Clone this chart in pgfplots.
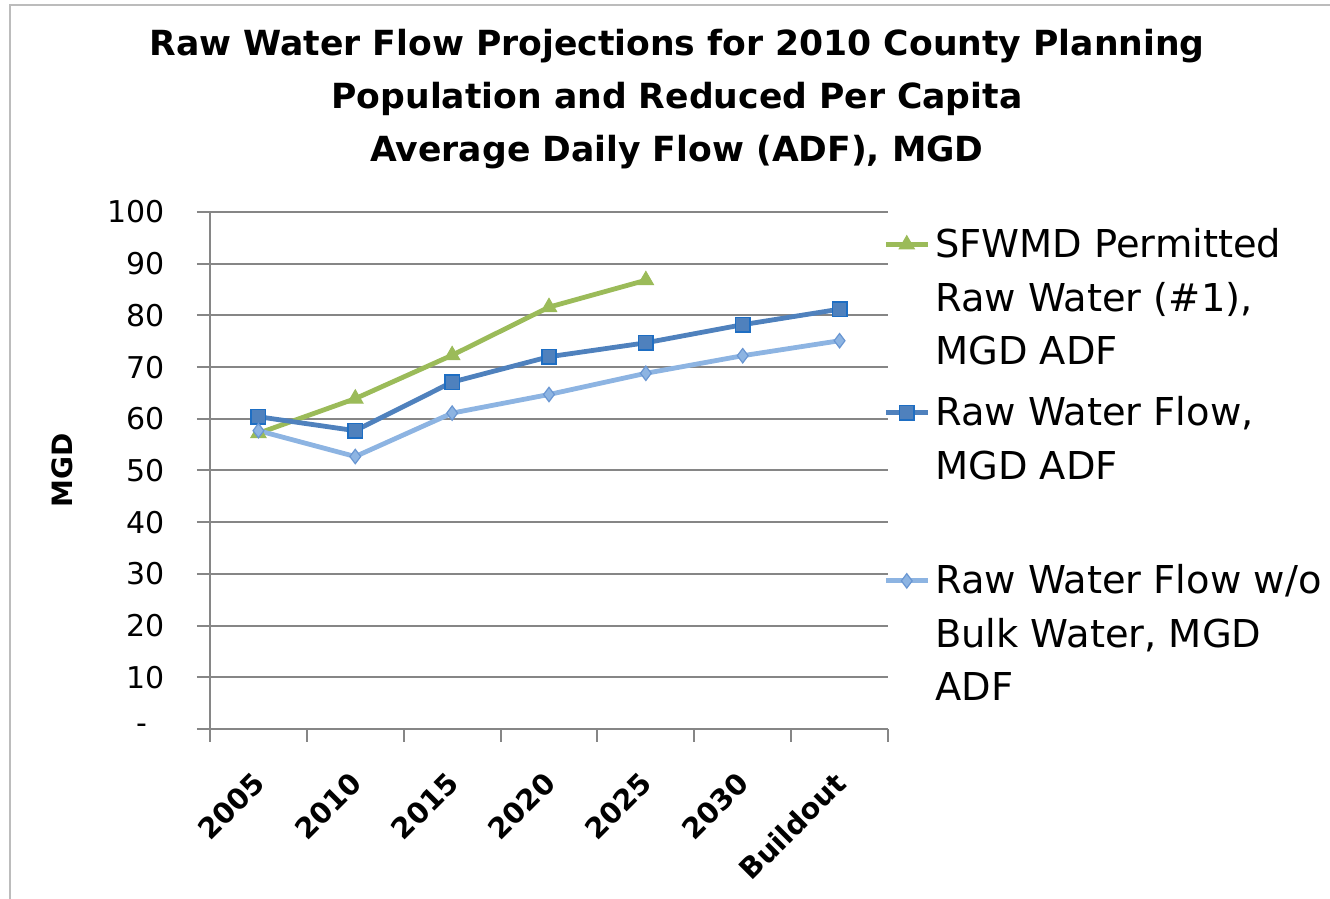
\documentclass[border=0pt]{standalone}
\usepackage{fontspec}
\setmainfont{DejaVu Sans}
\usepackage{pgfplots}
\pgfplotsset{compat=1.18}
\definecolor{cgreen}{RGB}{155,187,89}
\definecolor{cblue}{RGB}{79,129,189}
\definecolor{cblueedge}{RGB}{30,110,195}
\definecolor{clight}{RGB}{141,180,226}
\definecolor{clightedge}{RGB}{105,150,210}
\definecolor{cgrid}{RGB}{134,134,134}
\begin{document}
\begin{tikzpicture}
\path[use as bounding box] (0pt,0pt) rectangle (665pt,449.5pt);
\draw[cgrid!55, line width=1pt] (5pt,0pt) -- (5pt,447pt) -- (665pt,447pt);
\node[align=center, font=\bfseries\fontsize{17.3}{26.5}\selectfont] at (338.5pt,400pt)
  {Raw Water Flow Projections for 2010 County Planning\\Population and Reduced Per Capita\\Average Daily Flow (ADF), MGD};
\begin{axis}[
  at={(105pt,85pt)}, anchor=south west,
  scale only axis, width=339pt, height=258.5pt,
  xmin=-0.5, xmax=6.5, ymin=0, ymax=100,
  axis lines=left, axis line style={-, cgrid, line width=1pt},
  tick align=outside,
  major tick length=6.5pt,
  tick style={cgrid, line width=1pt},
  xtick={-0.5,0.5,1.5,2.5,3.5,4.5,5.5,6.5}, xticklabels={},
  extra x ticks={0,1,2,3,4,5,6},
  extra x tick labels={2005,2010,2015,2020,2025,2030,Buildout},
  extra x tick style={major tick length=0pt,
     tick label style={xshift=0.5pt, yshift=-24.5pt, rotate=45, anchor=east, inner sep=0pt,
       font=\bfseries\fontsize{14.3}{16}\selectfont}},
  ytick={0,10,20,30,40,50,60,70,80,90,100},
  yticklabels={-\hspace*{9pt},10,20,30,40,50,60,70,80,90,100},
  yticklabel style={font=\fontsize{15}{18}\selectfont, xshift=-12.5pt},
  ymajorgrids, grid style={cgrid, line width=1pt},
  ylabel={MGD},
  ylabel style={at={(axis description cs:-0.218,0.5)}, anchor=center, rotate=0,
     font=\bfseries\fontsize{14}{16}\selectfont},
  legend style={at={(axis description cs:0.9926,0.969)}, anchor=north west,
     draw=none, fill=none, inner sep=0pt, row sep=68pt,
     nodes={inner sep=0pt},
     font=\fontsize{19.2}{26.75}\selectfont},
  legend cell align=left,
  legend image code/.code={\draw[mark repeat=2, mark phase=2, #1]
     plot coordinates {(0pt,0pt) (10.5pt,0pt) (21pt,0pt)};},
  every axis plot/.append style={line width=2.4pt},
]
\addplot[cgreen, mark=triangle*, mark size=4.4pt, mark options={fill=cgreen, draw=cgreen, line width=0.5pt}]
  coordinates {(0,57.2) (1,63.9) (2,72.3) (3,81.6) (4,86.8)};
\addlegendentry{\hspace*{2.5pt}\parbox[t]{200pt}{SFWMD Permitted\\Raw Water (\#1),\\MGD ADF}}
\addplot[cblue, mark=square*, mark size=3.6pt, mark options={fill=cblue, draw=cblueedge, line width=0.75pt}]
  coordinates {(0,60.4) (1,57.7) (2,67.1) (3,72.0) (4,74.7) (5,78.2) (6,81.2)};
\addlegendentry{\hspace*{2.5pt}\parbox[t]{200pt}{Raw Water Flow,\\MGD ADF}}
\addplot[clight, mark=diamond*, mark size=3.6pt, mark options={fill=clight, draw=clightedge, line width=0.6pt}]
  coordinates {(0,57.7) (1,52.7) (2,61.1) (3,64.7) (4,68.8) (5,72.2) (6,75.1)};
\addlegendentry{\hspace*{2.5pt}\parbox[t]{200pt}{Raw Water Flow w/o\\Bulk Water, MGD\\ADF}}
\end{axis}
\end{tikzpicture}
\end{document}
